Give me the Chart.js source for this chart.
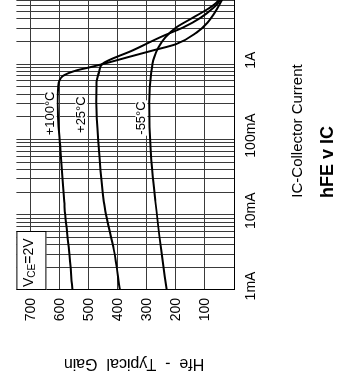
<!DOCTYPE html>
<html>
<head>
<meta charset="utf-8">
<script src="https://cdn.jsdelivr.net/npm/chart.js@4.4.1/dist/chart.umd.min.js"></script>
<style>
  html, body { margin: 0; padding: 0; background: #fff; }
  body { width: 350px; height: 387px; overflow: hidden; position: relative; }
  #wrap {
    position: absolute; left: 0; top: 0; width: 407px; height: 350px;
    transform-origin: 0 0; transform: translate(0px, 387px) rotate(-90deg);
  }
</style>
</head>
<body>
<div id="wrap"><canvas id="chart" width="407" height="350"></canvas></div>
<script>
// Collector current in mA (log axis) and typical gain for each temperature
const ic100 = [1, 3.4, 10, 15, 70, 316, 500, 616, 695, 761, 834, 913, 1000, 1240, 1530, 1850, 2640, 3570, 4830, 6540, 8860]
const hfe100 = [557, 569, 582, 585, 598, 608, 606, 601, 591, 571, 540, 496, 455, 366, 278, 200, 129, 91, 67, 47, 30]

const ic25 = [1, 3.4, 10, 15, 70, 316, 580, 785, 1000, 1530, 2410, 3070, 4150, 5620, 6540, 8860]
const hfe25 = [393, 414, 441, 449, 465, 475, 474, 465, 455, 349, 241, 176, 115, 71, 54, 33]

const icM55 = [1, 3.4, 15, 70, 316, 785, 1240, 1670, 2270, 3070, 4150, 5620, 6540, 8860]
const hfeM55 = [232, 251, 271, 287, 292, 285, 275, 261, 237, 200, 142, 84, 61, 33]

// Axis labels
const icDecades = [1, 10, 100, 1000]
const icDecadeLabels = ["1mA", "10mA", "100mA", "1A"]
const hfeTickLabels = [100, 200, 300, 400, 500, 600, 700]

// Curve labels: text, IC (mA), Hfe
const curveLabels = [
  { text: "+100°C", ic: 222, hfe: 632 },
  { text: "+25°C", ic: 214, hfe: 526 },
  { text: "-55°C", ic: 193, hfe: 319 },
]

const FONT = "'Liberation Sans', Arial, Helvetica, sans-serif"

function toPoints(xs, ys) {
  return xs.map((v, i) => ({ x: v, y: ys[i] }))
}

function curve(label, xs, ys) {
  return {
    label: label,
    data: toPoints(xs, ys),
    borderColor: "#000",
    borderWidth: 2,
    pointRadius: 0,
    fill: false,
    cubicInterpolationMode: "monotone",
  }
}

// log grid: 1..9 in each decade
const icGrid = []
for (let d = 1; d < 10000; d *= 10) {
  for (let k = 1; k < 10; k++) icGrid.push(k * d)
}
icGrid.push(10000)

// Texts drawn on top of the chart
const textPlugin = {
  id: "texts",
  afterDatasetsDraw(chart) {
    const { ctx, chartArea: a, scales } = chart
    ctx.save()

    // VCE box
    ctx.fillStyle = "#fff"
    ctx.fillRect(a.left, a.top, 58, 30)
    ctx.strokeStyle = "#000"
    ctx.lineWidth = 1
    ctx.strokeRect(a.left + 0.5, a.top + 0.5, 58, 29)
    ctx.fillStyle = "#000"
    ctx.textBaseline = "middle"
    ctx.textAlign = "left"
    let tx = a.left + 3
    const ty = a.top + 13
    ctx.font = "14px " + FONT
    ctx.fillText("V", tx, ty)
    tx += ctx.measureText("V").width
    ctx.font = "10px " + FONT
    ctx.fillText("CE", tx, ty + 3)
    tx += ctx.measureText("CE").width
    ctx.font = "14px " + FONT
    ctx.fillText("=2V", tx, ty)

    // temperature labels
    ctx.font = "13px " + FONT
    ctx.textAlign = "center"
    curveLabels.forEach((l) => {
      const px = scales.x.getPixelForValue(l.ic)
      const py = scales.y.getPixelForValue(l.hfe)
      const w = ctx.measureText(l.text).width
      ctx.fillStyle = "#fff"
      ctx.fillRect(px - w / 2 - 1, py - 6, w + 2, 12)
      ctx.fillStyle = "#000"
      ctx.fillText(l.text, px, py)
    })

    // axis titles
    ctx.font = "15px " + FONT
    ctx.fillText("IC-Collector Current", 256, 298)

    ctx.save()
    ctx.translate(24, 134)
    ctx.rotate(-Math.PI / 2)
    ctx.font = "16px " + FONT
    ctx.fillText("Hfe  -  Typical  Gain", 0, 0)
    ctx.restore()

    // chart title
    ctx.font = "bold 18px " + FONT
    ctx.fillText("hFE v IC", 225, 328)

    ctx.restore()
  },
}

const ctx = document.getElementById("chart").getContext("2d")
new Chart(ctx, {
  type: "line",
  data: {
    datasets: [
      curve("+100°C", ic100, hfe100),
      curve("+25°C", ic25, hfe25),
      curve("-55°C", icM55, hfeM55),
    ],
  },
  options: {
    responsive: false,
    animation: false,
    devicePixelRatio: 1,
    layout: { padding: { top: 13, right: 6, left: 0, bottom: 0 } },
    plugins: { legend: { display: false }, tooltip: { enabled: false }, title: { display: false } },
    scales: {
      x: {
        type: "logarithmic",
        min: 1,
        max: 10000,
        afterBuildTicks: (scale) => {
          scale.ticks = icGrid.map((v) => ({ value: v }))
        },
        afterFit: (scale) => {
          scale.height = 116
        },
        grid: { color: "#3a3a3a", lineWidth: 1, drawTicks: false },
        border: { color: "#000", width: 1 },
        ticks: {
          autoSkip: false,
          maxRotation: 0,
          padding: 9,
          labelOffset: 4,
          color: "#000",
          font: { family: FONT, size: 14 },
          callback: (v) => {
            const i = icDecades.indexOf(v)
            return i >= 0 ? icDecadeLabels[i] : ""
          },
        },
      },
      y: {
        min: 0,
        max: 750,
        afterFit: (scale) => {
          scale.width = 97
        },
        grid: { color: "#3a3a3a", lineWidth: 1, drawTicks: false },
        border: { color: "#000", width: 1 },
        ticks: {
          stepSize: 50,
          padding: 8,
          color: "#000",
          font: { family: FONT, size: 14 },
          callback: (v) => (hfeTickLabels.includes(v) ? String(v) : ""),
        },
      },
    },
  },
  plugins: [textPlugin],
})
</script>
</body>
</html>
